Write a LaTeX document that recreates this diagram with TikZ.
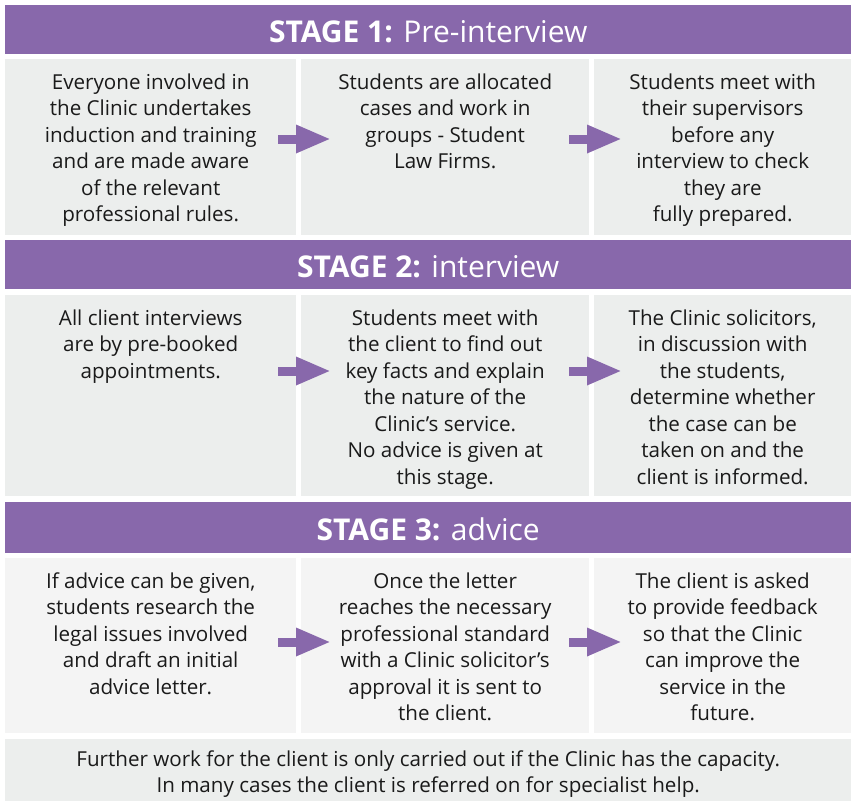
\documentclass[tikz,border=0pt]{standalone}
\usepackage{fontspec}
\setmainfont{Open Sans}
\usetikzlibrary{positioning,arrows.meta}
\definecolor{stagepurple}{HTML}{8868AB}
\definecolor{boxgrey}{HTML}{ECEEED}
\definecolor{boxlight}{HTML}{F4F4F4}
\definecolor{inktext}{HTML}{1A1A1A}
\tikzset{
  stagebar/.style={fill=stagepurple, minimum width=846pt, anchor=north west, inner sep=0pt},
  stagetitle/.style={text=white, yshift=-1.5pt, font=\fontsize{30}{32}\selectfont},
  cellbox/.style={fill=boxgrey, anchor=north west, inner sep=0pt},
  celltext/.style={align=center, text=inktext, font=\fontsize{20.6}{26.5}\selectfont, anchor=north, inner sep=0pt},
  flowarrow/.style={draw=stagepurple, line width=9pt, -{Triangle[length=35pt,width=26pt]}},
}
\begin{document}
\begin{tikzpicture}[x=1pt,y=-1pt]
    \useasboundingbox[fill=white] (0,0) rectangle (852,803);
    % stage headers
    \node[stagebar, minimum height=49pt] (h1) at (5,5) {};
    \node[stagetitle] at (h1) {\textbf{STAGE 1:} Pre-interview};
    \node[stagebar, minimum height=49pt] (h2) at (5,240) {};
    \node[stagetitle] at (h2) {\textbf{STAGE 2:} interview};
    \node[stagebar, minimum height=51pt] (h3) at (5,502) {};
    \node[stagetitle] at (h3) {\textbf{STAGE 3:} advice};
    % stage 1 cells
    \node[cellbox, minimum width=291pt, minimum height=176pt] (b11) at (5,59) {};
    \node[cellbox, minimum width=288pt, minimum height=176pt] (b12) at (301,59) {};
    \node[cellbox, minimum width=257pt, minimum height=176pt] (b13) at (594,59) {};
    \node[celltext, below=14.5pt of b11.north] (t11) {Everyone involved in\\the Clinic undertakes\\induction and training\\and are made aware\\of the relevant\\professional rules.};
    \node[celltext, below=14.5pt of b12.north] (t12) {Students are allocated\\cases and work in\\groups - Student\\Law Firms.};
    \node[celltext, below=14.5pt of b13.north] (t13) {Students meet with\\their supervisors\\before any\\interview to check\\they are\\fully prepared.};
    % stage 2 cells
    \node[cellbox, minimum width=291pt, minimum height=201pt] (b21) at (5,295) {};
    \node[cellbox, minimum width=288pt, minimum height=201pt] (b22) at (301,295) {};
    \node[cellbox, minimum width=257pt, minimum height=201pt] (b23) at (594,295) {};
    \node[celltext, below=14.5pt of b21.north] (t21) {All client interviews\\are by pre-booked\\appointments.};
    \node[celltext, below=14.5pt of b22.north] (t22) {Students meet with\\the client to find out\\key facts and explain\\the nature of the\\Clinic’s service.\\No advice is given at\\this stage.};
    \node[celltext, below=14.5pt of b23.north] (t23) {The Clinic solicitors,\\in discussion with\\the students,\\determine whether\\the case can be\\taken on and the\\client is informed.};
    % stage 3 cells
    \node[cellbox, fill=boxlight, minimum width=291pt, minimum height=175pt] (b31) at (5,558) {};
    \node[cellbox, fill=boxlight, minimum width=288pt, minimum height=175pt] (b32) at (301,558) {};
    \node[cellbox, fill=boxlight, minimum width=257pt, minimum height=175pt] (b33) at (594,558) {};
    \node[celltext, below=14.5pt of b31.north] (t31) {If advice can be given,\\students research the\\legal issues involved\\and draft an initial\\advice letter.};
    \node[celltext, below=14.5pt of b32.north] (t32) {Once the letter\\reaches the necessary\\professional standard\\with a Clinic solicitor’s\\approval it is sent to\\the client.};
    \node[celltext, below=14.5pt of b33.north] (t33) {The client is asked\\to provide feedback\\so that the Clinic\\can improve the\\service in the\\future.};
    % closing note
    \node[cellbox, minimum width=846pt, minimum height=62pt] (note) at (5,739) {};
    \node[celltext, anchor=center, yshift=-4pt] (tnote) at (note) {Further work for the client is only carried out if the Clinic has the capacity.\\In many cases the client is referred on for specialist help.};
    % arrows
    \coordinate (a11) at (278,139);
    \coordinate (a12) at (331,139);
    \coordinate (a13) at (569,139);
    \coordinate (a14) at (622,139);
    \coordinate (a21) at (278,371);
    \coordinate (a22) at (331,371);
    \coordinate (a23) at (569,371);
    \coordinate (a24) at (622,371);
    \coordinate (a31) at (278,642);
    \coordinate (a32) at (331,642);
    \coordinate (a33) at (569,642);
    \coordinate (a34) at (622,642);
    \draw[flowarrow] (a11) -- (a12);
    \draw[flowarrow] (a13) -- (a14);
    \draw[flowarrow] (a21) -- (a22);
    \draw[flowarrow] (a23) -- (a24);
    \draw[flowarrow] (a31) -- (a32);
    \draw[flowarrow] (a33) -- (a34);
\end{tikzpicture}
\end{document}
